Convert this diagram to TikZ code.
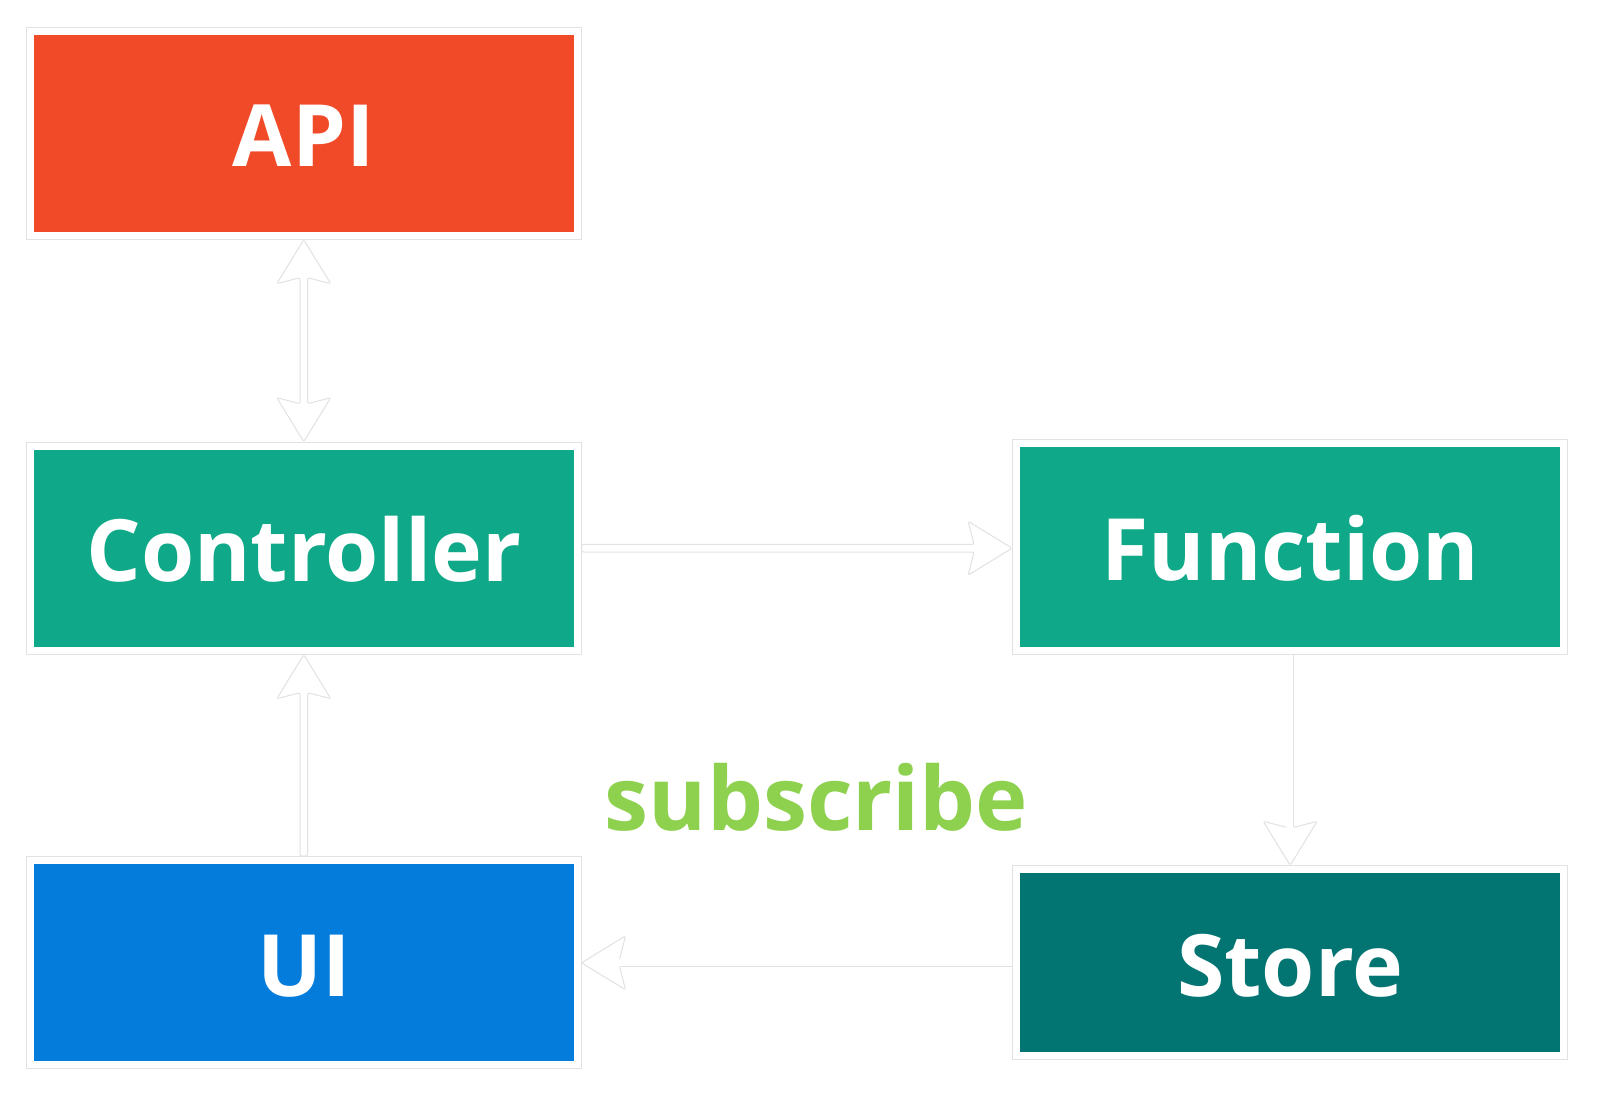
\documentclass[tikz,border=0pt]{standalone}
\usepackage{fontspec}
\setmainfont{Open Sans}
\usetikzlibrary{calc}
\definecolor{apired}{HTML}{F14A28}
\definecolor{ctrlgreen}{HTML}{0FA888}
\definecolor{uiblue}{HTML}{037CDC}
\definecolor{storeteal}{HTML}{027471}
\definecolor{subgreen}{HTML}{8ED14F}
\definecolor{outlinegray}{HTML}{E2E2E2}
\tikzset{
  box/.style={rectangle, inner sep=0pt, outer sep=4.5pt, fill=#1, draw=white,
    line width=7pt, preaction={draw=outlinegray, line width=9pt},
    text=white, font=\fontsize{86pt}{100pt}\selectfont\bfseries,
    text height=67pt, text depth=0pt},
  sublabel/.style={text=subgreen, font=\fontsize{88.5pt}{102pt}\selectfont\bfseries, inner sep=0pt},
  hollow/.style={fill=white, draw=outlinegray, line width=1pt, rounded corners=2pt, line join=round},
  thinline/.style={draw=outlinegray, line width=1pt}
}
% single-headed hollow arrow from #1 to #2
\newcommand\harrowsingle[2]{%
  \path (#1) coordinate (ha1) (#2) coordinate (ha2);
  \path ($(ha2)!38pt!(ha1)$) coordinate (haj) ($(ha2)!44pt!(ha1)$) coordinate (hab);
  \draw[hollow] ($(ha1)!3.8pt!90:(ha2)$) -- ($(haj)!3.8pt!90:(ha2)$) -- ($(hab)!27pt!90:(ha2)$)
    -- (ha2) -- ($(hab)!27pt!-90:(ha2)$) -- ($(haj)!3.8pt!-90:(ha2)$) -- ($(ha1)!3.8pt!-90:(ha2)$) -- cycle;
}
% double-headed hollow arrow between #1 and #2
\newcommand\harrowdouble[2]{%
  \path (#1) coordinate (ha1) (#2) coordinate (ha2);
  \path ($(ha1)!38pt!(ha2)$) coordinate (hja) ($(ha1)!44pt!(ha2)$) coordinate (hba)
        ($(ha2)!38pt!(ha1)$) coordinate (hjb) ($(ha2)!44pt!(ha1)$) coordinate (hbb);
  \draw[hollow] (ha1) -- ($(hba)!27pt!90:(ha2)$) -- ($(hja)!3.8pt!90:(ha2)$) -- ($(hjb)!3.8pt!90:(ha2)$)
    -- ($(hbb)!27pt!90:(ha2)$) -- (ha2) -- ($(hbb)!27pt!-90:(ha2)$) -- ($(hjb)!3.8pt!-90:(ha2)$)
    -- ($(hja)!3.8pt!-90:(ha2)$) -- ($(hba)!27pt!-90:(ha2)$) -- cycle;
}
% hollow head with a thin one-line shaft, from #1 to #2
\newcommand\harrowopen[2]{%
  \path (#1) coordinate (ha1) (#2) coordinate (ha2);
  \path ($(ha2)!38pt!(ha1)$) coordinate (haj) ($(ha2)!44pt!(ha1)$) coordinate (hab);
  \draw[thinline] ($(ha1)!3.5pt!90:(ha2)$) -- ($(haj)!3.5pt!90:(ha2)$);
  \draw[hollow] ($(haj)!3.8pt!90:(ha2)$) -- ($(hab)!27pt!90:(ha2)$)
    -- (ha2) -- ($(hab)!27pt!-90:(ha2)$) -- ($(haj)!3.8pt!-90:(ha2)$);
}
\begin{document}
\begin{tikzpicture}[x=1pt,y=-1pt]
\useasboundingbox[fill=white] (0,0) rectangle (1600,1098);
\node[box=apired, minimum width=546.5pt, minimum height=204pt] (api) at (303.8,133.2) {API};
\node[box=ctrlgreen, minimum width=546.5pt, minimum height=204pt] (controller) at (303.8,548.2) {Controller};
\node[box=uiblue, minimum width=546.5pt, minimum height=204pt] (ui) at (303.8,962.5) {UI};
\node[box=ctrlgreen, minimum width=547.3pt, minimum height=206.4pt] (function) at (1290.2,547) {Function};
\node[box=storeteal, minimum width=547.3pt, minimum height=186pt] (store) at (1290.2,962.8) {Store};
\node[sublabel, anchor=base] (sub) at (816.5,830.7) {subscribe};
\harrowdouble{api.south}{controller.north}
\harrowsingle{ui.north}{controller.south}
\harrowsingle{controller.east}{controller.east -| function.west}
\harrowopen{function.south}{store.north}
\harrowopen{store.west}{store.west -| ui.east}
\end{tikzpicture}
\end{document}
